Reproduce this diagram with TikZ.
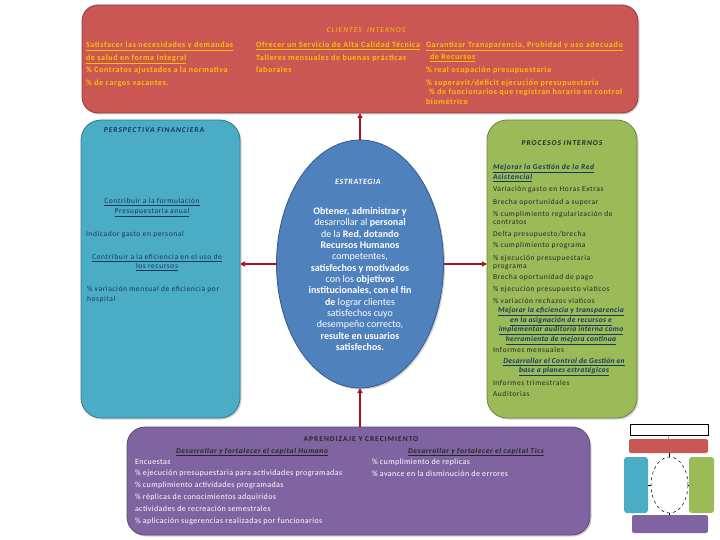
\documentclass[tikz,border=0pt]{standalone}
\usepackage{fontspec}
\setmainfont{Carlito}
\newfontfamily\wa[LetterSpace=8]{Carlito}
\newfontfamily\wb[LetterSpace=13]{Carlito}
\newfontfamily\wc[LetterSpace=5]{Carlito}
\usetikzlibrary{shapes.geometric,shadows,arrows.meta}
\definecolor{redbox}{RGB}{203,87,85}
\definecolor{bluebox}{RGB}{75,172,198}
\definecolor{greenbox}{RGB}{155,187,89}
\definecolor{purplebox}{RGB}{128,100,162}
\definecolor{ellblue}{RGB}{79,129,189}
\definecolor{arrowred}{RGB}{165,20,30}
\definecolor{gold}{RGB}{255,192,0}
\definecolor{navy}{RGB}{23,55,94}
\definecolor{darktext}{RGB}{38,38,38}
\begin{document}
\begin{tikzpicture}[x=1pt,y=-1pt,
  panel/.style={draw=#1!70!black, fill=#1, line width=0.8pt, inner sep=0pt, outer sep=0pt,
    drop shadow={shadow xshift=1.5pt,shadow yshift=-1.5pt,opacity=0.35}},
  txt/.style={inner sep=0pt, outer sep=0pt},
  arr/.style={-{Triangle[length=5pt,width=5pt]}, line width=1.8pt, draw=arrowred},
  tiny/.style={inner sep=0pt, outer sep=0pt}]
\useasboundingbox (0,0) rectangle (720,540);

% panels
\node[panel=redbox, rounded corners=16pt, minimum width=556pt, minimum height=108pt] (top) at (360,59) {};
\node[panel=bluebox, rounded corners=20pt, minimum width=159pt, minimum height=298pt] (lbox) at (160.5,269) {};
\node[panel=greenbox, rounded corners=20pt, minimum width=150pt, minimum height=298pt] (rbox) at (562,269) {};
\node[panel=purplebox, rounded corners=18pt, minimum width=463pt, minimum height=108pt] (bbox) at (358.5,481) {};
\node[panel=ellblue, ellipse, minimum width=167pt, minimum height=248pt] (ell) at (360,264) {};

% arrows
\draw[arr] (ell.north) -- (top.south);
\draw[arr] (ell.east) -- (ell.east -| rbox.west);
\draw[arr] (ell.west) -- (ell.west -| lbox.east);
\draw[arr] (bbox.north -| ell.south) -- (ell.south);

% top panel text
\node[txt, text=gold, font=\wb\fontsize{7.5}{9}\selectfont\itshape] (th) at (366,30) {CLIENTES \ INTERNOS};
\node[txt, text=gold, anchor=north west, align=left, font=\wa\fontsize{8}{12.4}\selectfont\bfseries] (tc1) at (86,42)
  {\underline{Satisfacer las necesidades y demandas}\\
   \underline{de salud en forma Integral}\\
   \% Contratos ajustados a la normativa\\[1pt]
   \% de cargos vacantes.};
\node[txt, text=gold, anchor=north west, align=left, font=\wa\fontsize{8}{12.4}\selectfont\bfseries] (tc2) at (256,42)
  {\underline{Ofrecer un Servicio de Alta Calidad Técnica}\\
   Talleres mensuales de buenas prácticas\\
   laborales};
\node[txt, text=gold, anchor=north west, align=left, font=\wa\fontsize{8}{12.2}\selectfont\bfseries] (tc3) at (426,42)
  {\underline{Garantizar Transparencia, Probidad y uso adecuado}\\
   \hspace*{4pt}\underline{de Recursos}\\
   \% real ocupación presupuestaria};
\node[txt, text=gold, anchor=north west, align=left, font=\wa\fontsize{8}{9.6}\selectfont\bfseries] (tc4) at (426,79.5)
  {\% superavit/déficit ejecución presupuestaria\\
   \hspace*{3pt}\% de funcionarios que registran horario en control\\
   biométrico};

% left panel text
\node[txt, text=navy, font=\wb\fontsize{7.5}{9}\selectfont\bfseries\itshape] (lh) at (154,130) {PERSPECTIVA FINANCIERA};
\node[txt, text=navy, align=center, font=\wa\fontsize{7.5}{9.3}\selectfont] (l1) at (152,207.5)
  {\underline{Contribuir a la formulación}\\ \underline{Presupuestaria anual}};
\node[txt, text=navy, anchor=west, font=\wa\fontsize{7.5}{9}\selectfont] (l2) at (86,235) {Indicador gasto en personal};
\node[txt, text=navy, align=center, font=\wa\fontsize{7.5}{9.3}\selectfont] (l3) at (157,262.5)
  {\underline{Contribuir a la eficiencia en el uso de}\\ \underline{los recursos}};
\node[txt, text=navy, anchor=north west, align=left, font=\wa\fontsize{7.5}{9.3}\selectfont] (l4) at (87,286.5)
  {\% variación mensual de eficiencia por\\ hospital};

% ellipse text
\node[txt, text=white, font=\wa\fontsize{8}{9}\selectfont\bfseries\itshape] (eh) at (358,182) {ESTRATEGIA};
\node[txt, text=white, align=center, font=\fontsize{10}{11.33}\selectfont] (et) at (360,279)
  {\textbf{Obtener, administrar y}\\
   desarrollar al \textbf{personal}\\
   de la \textbf{Red, dotando}\\
   \textbf{Recursos Humanos}\\
   competentes,\\
   \textbf{satisfechos y motivados}\\
   con los \textbf{objetivos}\\
   \textbf{institucionales, con el fin}\\
   \textbf{de} lograr clientes\\
   satisfechos cuyo\\
   desempeño correcto,\\
   \textbf{resulte en usuarios}\\
   \textbf{satisfechos.}};

% right panel text
\node[txt, text=darktext, font=\wb\fontsize{7.5}{9}\selectfont\bfseries\itshape] (rh) at (562,143) {PROCESOS INTERNOS};
\node[txt, text=darktext, anchor=north west, align=left, font=\wa\fontsize{7.5}{8.3}\selectfont] (r1) at (493,164.5)
  {\textcolor{navy}{\bfseries\itshape\underline{Mejorar la Gestión de la Red}}\\
   \textcolor{navy}{\bfseries\itshape\underline{Asistencial}}\\[3.7pt]
   Variación gasto en Horas Extras\\[4.7pt]
   Brecha oportunidad a superar\\[3.7pt]
   \% cumplimiento regularización de\\
   contratos\\[3.7pt]
   Delta presupuesto/brecha\\[2.7pt]
   \% cumplimiento programa\\[4.7pt]
   \% ejecución presupuestaria\\
   programa\\[2.7pt]
   Brecha oportunidad de pago\\[3.7pt]
   \% ejecucion presupuesto viaticos\\[3.7pt]
   \% variación rechazos viaticos};
\node[txt, text=navy, align=center, font=\wc\fontsize{7.5}{8.3}\selectfont\bfseries\itshape] (r2) at (561,326)
  {\underline{Mejorar la eficiencia y transparencia}\\
   \underline{en la asignación de recursos e}\\
   \underline{implementar auditoría interna como}\\
   \underline{herramienta de mejora continua}};
\node[txt, text=darktext, anchor=west, font=\wa\fontsize{7.5}{9}\selectfont] (r3) at (493,350) {Informes mensuales};
\node[txt, text=navy, align=center, font=\wc\fontsize{7.5}{8.3}\selectfont\bfseries\itshape] (r4) at (564,367)
  {\underline{Desarrollar el Control de Gestión en}\\
   \underline{base a planes estratégicos}};
\node[txt, text=darktext, anchor=north west, align=left, font=\wa\fontsize{7.5}{11}\selectfont] (r5) at (493,380)
  {Informes trimestrales\\ Auditorias};

% bottom panel text
\node[txt, text=darktext, font=\wb\fontsize{7.5}{9}\selectfont\bfseries] (bh) at (361,439) {APRENDIZAJE Y CRECIMIENTO};
\node[txt, text=darktext, font=\wa\fontsize{7.5}{9}\selectfont\bfseries\itshape] (bs1) at (252,452)
  {\underline{Desarrollar y fortalecer el capital Humano}};
\node[txt, text=darktext, font=\wa\fontsize{7.5}{9}\selectfont\bfseries\itshape] (bs2) at (476,452)
  {\underline{Desarrollar y fortalecer el capital Tics}};
\node[txt, text=white, anchor=north west, align=left, font=\wc\fontsize{8}{11.8}\selectfont] (bl) at (135,459)
  {Encuestas\\
   \% ejecución presupuestaria para actividades programadas\\
   \% cumplimiento actividades programadas\\
   \% réplicas de conocimientos adquiridos\\
   actividades de recreación semestrales\\
   \% aplicación sugerencias realizadas por funcionarios};
\node[txt, text=white, anchor=north west, align=left, font=\wc\fontsize{8}{11.8}\selectfont] (br) at (372,459)
  {\% cumplimiento de replicas\\
   \% avance en la disminución de errores};

% thumbnail
\node[tiny, draw=black, line width=0.4pt, minimum width=78pt, minimum height=11pt] (tw) at (669,430) {};
\node[tiny, fill=redbox, rounded corners=2pt, minimum width=79pt, minimum height=14pt] (tr) at (668.5,446) {};
\node[tiny, fill=bluebox, rounded corners=3pt, minimum width=24pt, minimum height=56pt] (tb) at (636,485) {};
\node[tiny, fill=greenbox, rounded corners=3pt, minimum width=25pt, minimum height=56pt] (tg) at (701.5,485) {};
\node[tiny, ellipse, draw=black, dashed, line width=0.5pt, minimum width=37pt, minimum height=56pt] (te) at (669.5,485) {};
\node[tiny, fill=purplebox, rounded corners=2pt, minimum width=76pt, minimum height=18pt] (tp) at (670,524) {};
\draw[line width=0.3pt] (tw.south) -- (tr.north);
\draw[line width=0.3pt] (te.west) -- (te.west -| tb.east);
\draw[line width=0.3pt] (te.east) -- (te.east -| tg.west);
\draw[line width=0.3pt] (te.north) -- (te.north |- tr.south);
\draw[line width=0.3pt] (te.south) -- (te.south |- tp.north);
\end{tikzpicture}
\end{document}
